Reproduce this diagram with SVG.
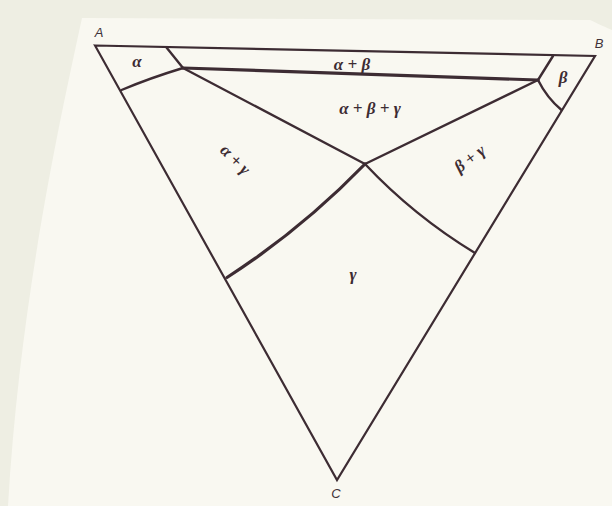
<svg xmlns="http://www.w3.org/2000/svg" width="612" height="506" viewBox="0 0 612 506">
  <style>
    .edge { fill: none; stroke: #3d2c33; stroke-width: 2.2; stroke-linejoin: miter; stroke-linecap: round; }
    .bd { fill: none; stroke: #3d2c33; stroke-width: 2.4; stroke-linecap: round; }
    .thick { fill: none; stroke: #3d2c33; stroke-width: 3.2; stroke-linecap: round; }
    .g { font-family: "Liberation Serif", "DejaVu Serif", serif; font-style: italic; font-weight: bold; font-size: 17px; fill: #3d2c33; text-anchor: middle; }
    .v { font-family: "Liberation Sans", "DejaVu Sans", sans-serif; font-style: italic; font-size: 13px; fill: #3f3238; text-anchor: middle; }
  </style>
  <rect x="0" y="0" width="612" height="506" fill="#eeeee3"/>
  <path d="M 82 18 C 60 120, 20 300, 8 506 L 612 506 L 612 30 C 600 25, 595 22, 590 20 Z" fill="#f9f8f1"/>

  <g id="triangle">
    <path class="edge" d="M 95 45.5 L 595 56 L 337 480 Z"/>
  </g>

  <g id="boundaries">
    <path class="bd" d="M 166.5 47.5 L 183 68"/>
    <path class="bd" d="M 121.5 90 Q 150 78 183 68"/>
    <path class="thick" d="M 183 68 L 538 80"/>
    <path class="bd" d="M 553 56 L 538 80"/>
    <path class="bd" d="M 538 80 Q 547 98 561.5 110"/>
    <path class="bd" d="M 183 68 L 365 164"/>
    <path class="bd" d="M 538 80 L 365 164"/>
    <path class="thick" d="M 365 164 Q 302 229 227 277.5"/>
    <path class="bd" d="M 365 164 Q 414 216 475 253"/>
  </g>

  <g id="labels">
    <text class="v" x="99" y="37">A</text>
    <text class="v" x="599" y="48">B</text>
    <text class="v" x="336" y="498">C</text>
    <text class="g" x="137" y="67">α</text>
    <text class="g" x="563" y="83">β</text>
    <text class="g" x="352" y="70">α + β</text>
    <text class="g" x="370" y="114">α + β + γ</text>
    <text class="g" transform="translate(235,160) rotate(45)" x="0" y="5">α + γ</text>
    <text class="g" transform="translate(470,159) rotate(-37)" x="0" y="5">β + γ</text>
    <text class="g" x="353" y="280">γ</text>
  </g>
</svg>
